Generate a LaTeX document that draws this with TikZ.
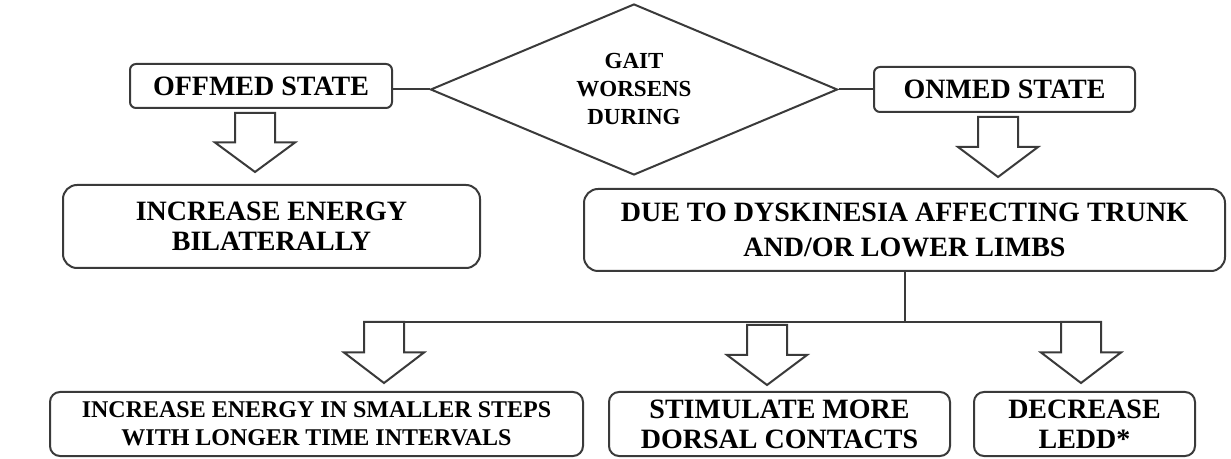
\documentclass[tikz,border=0pt]{standalone}
\usepackage{fontspec}
\setmainfont{Liberation Serif}
\usetikzlibrary{shapes.geometric,calc}
\definecolor{lineGray}{HTML}{3A3A3A}

\begin{document}
\begin{tikzpicture}[
    x=0.5pt, y=-0.5pt,
    every node/.style={align=center, text=black, inner sep=0pt},
    bigtext/.style={font=\fontsize{14}{15}\selectfont\bfseries},
    smalltext/.style={font=\fontsize{12}{14}\selectfont\bfseries},
    statebox/.style={draw=lineGray, line width=1pt, rounded corners=3pt, bigtext},
    actionbox/.style={draw=lineGray, line width=1pt, rounded corners=7pt, bigtext},
    decision/.style={draw=lineGray, line width=1pt, diamond, aspect=2.38,
      font=\fontsize{11.5}{14}\selectfont\bfseries},
    link/.style={draw=lineGray, line width=1pt},
    hollow/.style={draw=lineGray, line width=1pt, fill=white, to path={
      let \p1=(\tikztostart), \p2=(\tikztotarget), \p3=($(\p1)!0.5!(\p2)$) in
      (\x1-10pt,\y1) -- (\x1-10pt,\y3) -- (\x1-20pt,\y3) -- (\x1,\y2)
      -- (\x1+20pt,\y3) -- (\x1+10pt,\y3) -- (\x1+10pt,\y1) -- cycle}},
  ]
  \useasboundingbox (0,0) rectangle (1231,459);

  % Decision and the two states
  \node[decision, minimum width=203.5pt, minimum height=85.5pt] (gait) at (634,89.5)
    {GAIT\\WORSENS\\DURING};
  \node[statebox, minimum width=131pt, minimum height=22pt] (offmed) at (261,86) {OFFMED STATE};
  \node[statebox, minimum width=130.5pt, minimum height=22.5pt] (onmed) at (1004.5,89.5) {ONMED STATE};
  \draw[link] (gait.west -| offmed.east) -- (gait.west);
  \draw[link] (gait.east) -- (gait.east -| onmed.west);

  % Second row
  \node[actionbox, minimum width=208.5pt, minimum height=41.5pt] (bilat) at (271.5,226.5)
    {INCREASE ENERGY\\BILATERALLY};
  \node[actionbox, font=\fontsize{14}{17.5}\selectfont\bfseries,
        minimum width=320.5pt, minimum height=41pt] (dysk) at (904.5,230)
    {DUE TO DYSKINESIA AFFECTING TRUNK\\AND/OR LOWER LIMBS};

  \coordinate (offTop) at (255,113);
  \coordinate (offTip) at (255,172);
  \coordinate (onTop) at (998,117);
  \coordinate (onTip) at (998,177);
  \draw[hollow] (offTop) to (offTip);
  \draw[hollow] (onTop) to (onTip);

  % Bottom row
  \node[actionbox, smalltext, rounded corners=5pt, minimum width=266.5pt, minimum height=32pt]
    (steps) at (316.5,424) {INCREASE ENERGY IN SMALLER STEPS\\WITH LONGER TIME INTERVALS};
  \node[actionbox, rounded corners=5pt, minimum width=170.5pt, minimum height=32pt]
    (dorsal) at (779.5,424) {STIMULATE MORE\\DORSAL CONTACTS};
  \node[actionbox, rounded corners=5pt, minimum width=110.5pt, minimum height=32pt]
    (ledd) at (1084.5,424) {DECREASE\\LEDD*};

  % Split line
  \coordinate (busL) at (364,322);
  \coordinate (busR) at (1101,322);
  \draw[link] (busL) -- (busR);
  \draw[link] (dysk.south) -- (dysk.south |- busL);

  \coordinate (stepsTop) at (384,322);
  \coordinate (stepsTip) at (384,383);
  \coordinate (dorsalTop) at (767,325);
  \coordinate (dorsalTip) at (767,385);
  \coordinate (leddTop) at (1081,322);
  \coordinate (leddTip) at (1081,383);
  \draw[hollow] (stepsTop) to (stepsTip);
  \draw[hollow] (dorsalTop) to (dorsalTip);
  \draw[hollow] (leddTop) to (leddTip);
\end{tikzpicture}
\end{document}
